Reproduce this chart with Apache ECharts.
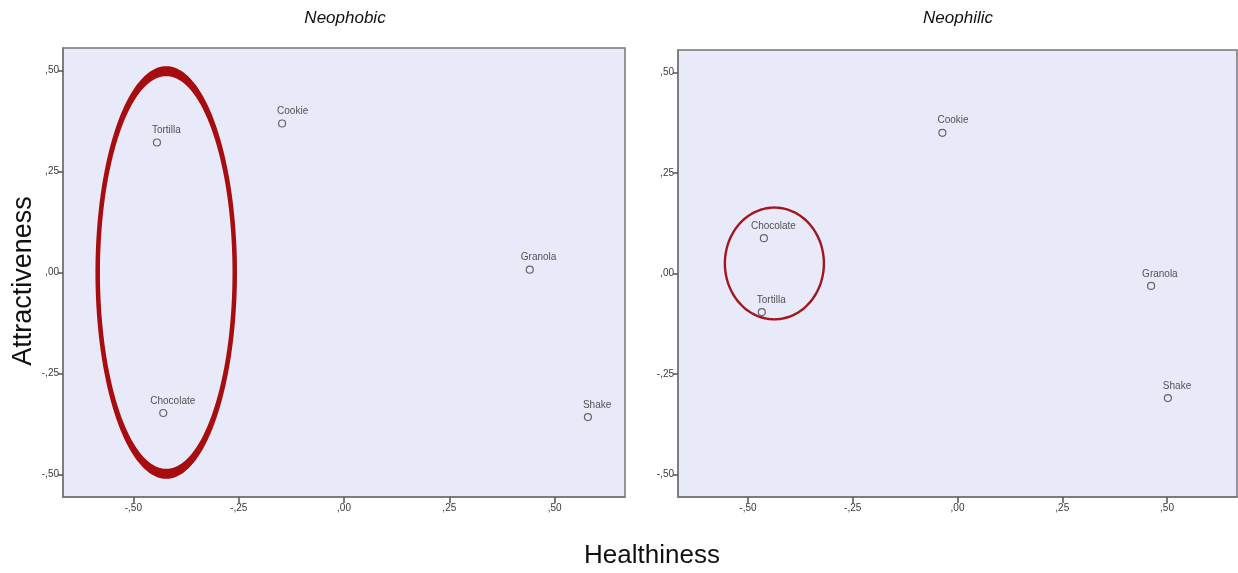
<!DOCTYPE html>
<html>
<head>
<meta charset="utf-8">
<script src="https://cdn.jsdelivr.net/npm/echarts@6/dist/echarts.min.js"></script>
<style>
  html, body { margin: 0; padding: 0; background: #ffffff; }
  #chart { width: 1238px; height: 573px; }
</style>
</head>
<body>
<div id="chart"></div>
<script>
// Product positions on the Healthiness / Attractiveness map, per consumer group
const products = ['Tortilla', 'Cookie', 'Granola', 'Chocolate', 'Shake'];

const neophobicHealthiness     = [-0.444, -0.147, 0.441, -0.429, 0.579];
const neophobicAttractiveness  = [ 0.322,  0.369, 0.007, -0.348, -0.358];

const neophilicHealthiness     = [-0.467, -0.036, 0.462, -0.462, 0.502];
const neophilicAttractiveness  = [-0.096,  0.350, -0.031, 0.088, -0.310];

const tickValues = [-0.5, -0.25, 0, 0.25, 0.5];

// Highlight ellipses: centre x, centre y, radius x, radius y (data units)
const neophobicEllipse = [-0.422, 0.0, 0.168, 0.511];
const neophilicEllipse = [-0.437, 0.025, 0.121, 0.142];

const panelTitles = ['Neophobic', 'Neophilic'];

// ---- styling ----
const FONT = '"Liberation Sans", Arial, sans-serif';
const ringStroke = [[4.5, 10], [2.4, 2.4]];   // ring thickness in px: [sides, top/bottom]
const ringColor = ['#a70c0e', '#a3161e'];
const labelShift = { Chocolate: -8, Granola: -4 };

function tickFormat(v) {
  const s = Math.abs(v).toFixed(2).replace(/^0\./, ',');
  return (v < 0 ? '-' : '') + s;
}

function points(xs, ys) {
  return products.map((name, i) => ({
    name: name,
    value: [xs[i], ys[i]],
    label: { offset: [-5 + (labelShift[name] || 0), 0] }
  }));
}

function ellipsePath(c, a, b, reverse) {
  const n = 160;
  let d = '';
  for (let i = 0; i <= n; i++) {
    const t = (reverse ? -1 : 1) * 2 * Math.PI * i / n;
    const x = c[0] + a * Math.cos(t);
    const y = c[1] + b * Math.sin(t);
    d += (i ? 'L' : 'M') + x.toFixed(2) + ' ' + y.toFixed(2) + ' ';
  }
  return d + 'Z ';
}

function ringSeries(idx, ell) {
  return {
    type: 'custom',
    xAxisIndex: idx,
    yAxisIndex: idx,
    z: 1,
    silent: true,
    clip: false,
    data: [ell],
    renderItem: function (params, api) {
      const cx = api.value(0), cy = api.value(1), rx = api.value(2), ry = api.value(3);
      const c = api.coord([cx, cy]);
      const pxr = api.coord([cx + rx, cy]);
      const pyr = api.coord([cx, cy + ry]);
      const A = Math.abs(pxr[0] - c[0]);
      const B = Math.abs(pyr[1] - c[1]);
      const sw = ringStroke[idx];
      const d = ellipsePath(c, A, B, false) + ellipsePath(c, A - sw[0], B - sw[1], true);
      return {
        type: 'path',
        shape: { pathData: d },
        style: { fill: ringColor[idx], stroke: null }
      };
    }
  };
}

function scatterSeries(idx, xs, ys) {
  return {
    type: 'scatter',
    xAxisIndex: idx,
    yAxisIndex: idx,
    z: 3,
    symbol: 'circle',
    symbolSize: 7,
    itemStyle: { color: 'rgba(0,0,0,0)', borderColor: '#444', borderWidth: 1.2 },
    label: {
      show: true,
      formatter: '{b}',
      position: 'top',
      align: 'left',
      distance: 3,
      fontSize: 10,
      fontFamily: FONT,
      color: '#2a2a2a'
    },
    emphasis: { disabled: true },
    data: points(xs, ys)
  };
}

function xAxis(idx) {
  return {
    type: 'value',
    gridIndex: idx,
    min: -0.667,
    max: 0.667,
    splitLine: { show: false },
    axisLine: { show: true, onZero: false, lineStyle: { color: '#767676', width: 1.5 } },
    axisTick: { show: true, inside: false, length: 6, customValues: tickValues,
                lineStyle: { color: '#555', width: 1.5 } },
    axisLabel: { customValues: tickValues, formatter: tickFormat, fontSize: 10,
                 fontFamily: FONT, color: '#3a3a3a', margin: 6 }
  };
}

function yAxis(idx) {
  return {
    type: 'value',
    gridIndex: idx,
    min: -0.556,
    max: 0.556,
    splitLine: { show: false },
    axisLine: { show: true, onZero: false, lineStyle: { color: '#767676', width: 1.5 } },
    axisTick: { show: true, inside: false, length: 5, customValues: tickValues,
                lineStyle: { color: '#555', width: 1.5 } },
    axisLabel: { customValues: tickValues, formatter: tickFormat, fontSize: 10,
                 fontFamily: FONT, color: '#3a3a3a', margin: 4 }
  };
}

const gridStyle = { show: true, backgroundColor: '#e8eaf9', borderColor: '#767676', borderWidth: 1.5 };

const chart = echarts.init(document.getElementById('chart'), null, { renderer: 'canvas' });

chart.setOption({
  animation: false,
  backgroundColor: '#ffffff',
  grid: [
    Object.assign({ left: 63, top: 48, width: 562, height: 449 }, gridStyle),
    Object.assign({ left: 678, top: 50, width: 559, height: 447 }, gridStyle)
  ],
  xAxis: [xAxis(0), xAxis(1)],
  yAxis: [yAxis(0), yAxis(1)],
  graphic: [
    { type: 'text', x: 345, y: 18, style: { text: panelTitles[0], font: 'italic 17px ' + FONT,
      fill: '#111', align: 'center', verticalAlign: 'middle', textAlign: 'center', textVerticalAlign: 'middle' } },
    { type: 'text', x: 958, y: 18, style: { text: panelTitles[1], font: 'italic 17px ' + FONT,
      fill: '#111', align: 'center', verticalAlign: 'middle', textAlign: 'center', textVerticalAlign: 'middle' } },
    { type: 'text', x: 24, y: 281, rotation: Math.PI / 2, style: { text: 'Attractiveness', font: '27px ' + FONT,
      fill: '#111', align: 'center', verticalAlign: 'middle', textAlign: 'center', textVerticalAlign: 'middle' } },
    { type: 'text', x: 652, y: 556, style: { text: 'Healthiness', font: '26px ' + FONT,
      fill: '#111', align: 'center', verticalAlign: 'middle', textAlign: 'center', textVerticalAlign: 'middle' } }
  ],
  series: [
    ringSeries(0, neophobicEllipse),
    ringSeries(1, neophilicEllipse),
    scatterSeries(0, neophobicHealthiness, neophobicAttractiveness),
    scatterSeries(1, neophilicHealthiness, neophilicAttractiveness)
  ]
});
</script>
</body>
</html>
